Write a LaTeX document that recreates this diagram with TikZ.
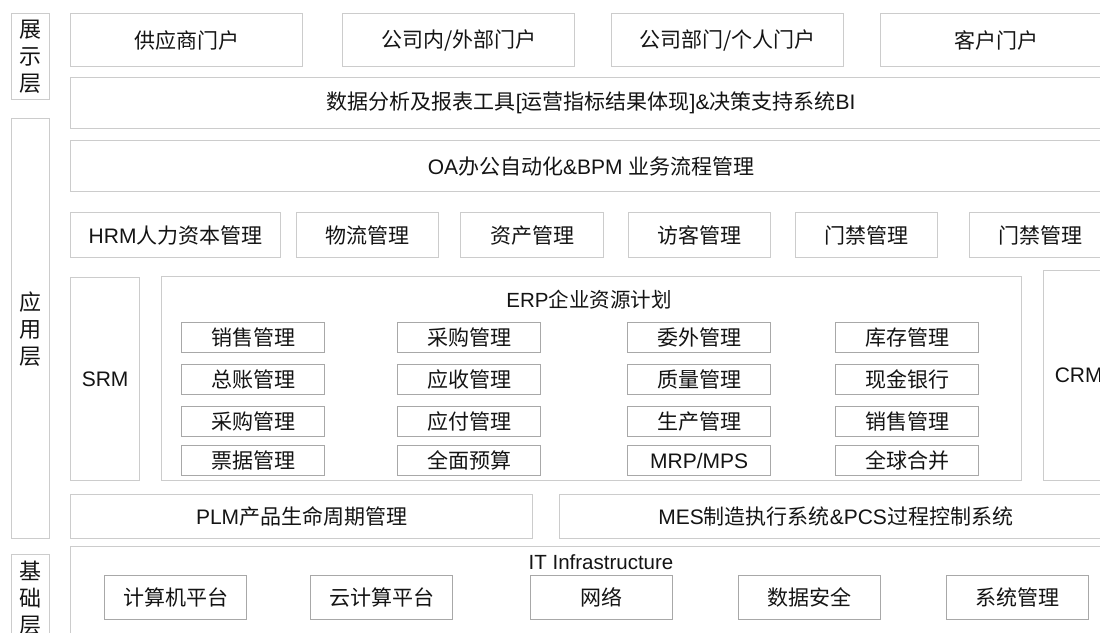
\documentclass[tikz,border=0pt]{standalone}
\usepackage{fontspec}
\setmainfont{Noto Sans CJK SC}
\newfontfamily\latfont{Liberation Sans}
\newcommand\latn[1]{{\latfont #1}}
\definecolor{boxgray}{HTML}{CCCCCC}
\definecolor{ingray}{HTML}{A8A8A8}
\definecolor{txt}{HTML}{141414}
\begin{document}
\begin{tikzpicture}[x=1pt,y=-1pt,
  box/.style={draw=boxgray, line width=1.3pt, inner sep=0pt, anchor=north west, text=txt,
    font=\fontsize{21}{24}\selectfont},
  ibox/.style={box, draw=ingray, minimum width=143, minimum height=30, font=\fontsize{21}{24}\selectfont},
  itbox/.style={box, draw=ingray, minimum width=142, minimum height=44},
  side/.style={box, minimum width=38, align=center, font=\fontsize{22}{27}\selectfont},
  ttl/.style={text=txt, inner sep=0pt, font=\fontsize{20.5}{24}\selectfont}]
\path[use as bounding box, clip] (0,0) rectangle (1100,632);
\fill[white] (0,0) rectangle (1100,632);
% side labels
\node[side, minimum height=86] (l1) at (11,13) {展\\示\\层};
\node[side, minimum height=420] (l2) at (11,118) {应\\用\\层};
\node[side, minimum height=88] (l3) at (11,554) {基\\础\\层};
% presentation
\node[box, minimum width=232, minimum height=53] (p1) at (70,13) {供应商门户};
\node[box, minimum width=232, minimum height=53] (p2) at (342,13) {公司内/外部门户};
\node[box, minimum width=232, minimum height=53] (p3) at (611,13) {公司部门/个人门户};
\node[box, minimum width=232, minimum height=53] (p4) at (880,13) {客户门户};
\node[box, minimum width=1041, minimum height=51] (bi) at (70,77) {数据分析及报表工具\latn{[}运营指标结果体现\latn{]\&}决策支持系统\latn{BI}};
\node[box, minimum width=1041, minimum height=51] (oa) at (70,140) {\latn{OA}办公自动化\latn{\&BPM }业务流程管理};
% row
\node[box, minimum width=210, minimum height=45] (hrm) at (70,212) {\latn{HRM}人力资本管理};
\node[box, minimum width=142, minimum height=45] (wl) at (296,212) {物流管理};
\node[box, minimum width=143, minimum height=45] (zc) at (460,212) {资产管理};
\node[box, minimum width=142, minimum height=45] (fk) at (628,212) {访客管理};
\node[box, minimum width=142, minimum height=45] (mj1) at (795,212) {门禁管理};
\node[box, minimum width=142, minimum height=45] (mj2) at (969,212) {门禁管理};
% SRM / ERP / CRM
\node[box, minimum width=69, minimum height=203] (srm) at (70,277) {\latn{SRM}};
\node[box, minimum width=860, minimum height=204] (erp) at (161,276) {};
\node[ttl] (erpt) at (589,300) {\latn{ERP}企业资源计划};
\node[box, minimum width=70, minimum height=210] (crm) at (1043,270) {\latn{CRM}};
% ERP modules
\node[ibox] (e11) at (181,322) {销售管理};
\node[ibox] (e12) at (397,322) {采购管理};
\node[ibox] (e13) at (627,322) {委外管理};
\node[ibox] (e14) at (835,322) {库存管理};
\node[ibox] (e21) at (181,364) {总账管理};
\node[ibox] (e22) at (397,364) {应收管理};
\node[ibox] (e23) at (627,364) {质量管理};
\node[ibox] (e24) at (835,364) {现金银行};
\node[ibox] (e31) at (181,406) {采购管理};
\node[ibox] (e32) at (397,406) {应付管理};
\node[ibox] (e33) at (627,406) {生产管理};
\node[ibox] (e34) at (835,406) {销售管理};
\node[ibox] (e41) at (181,445) {票据管理};
\node[ibox] (e42) at (397,445) {全面预算};
\node[ibox] (e43) at (627,445) {\latn{MRP/MPS}};
\node[ibox] (e44) at (835,445) {全球合并};
% PLM / MES
\node[box, minimum width=462, minimum height=44] (plm) at (70,494) {\latn{PLM}产品生命周期管理};
\node[box, minimum width=552, minimum height=44] (mes) at (559,494) {\latn{MES}制造执行系统\latn{\&PCS}过程控制系统};
% IT infrastructure
\node[box, minimum width=1041, minimum height=100] (it) at (70,546) {};
\node[ttl] (itt) at (601,562) {\latn{IT Infrastructure}};
\node[itbox] (i1) at (104,575) {计算机平台};
\node[itbox] (i2) at (310,575) {云计算平台};
\node[itbox] (i3) at (530,575) {网络};
\node[itbox] (i4) at (738,575) {数据安全};
\node[itbox] (i5) at (946,575) {系统管理};
\end{tikzpicture}
\end{document}
